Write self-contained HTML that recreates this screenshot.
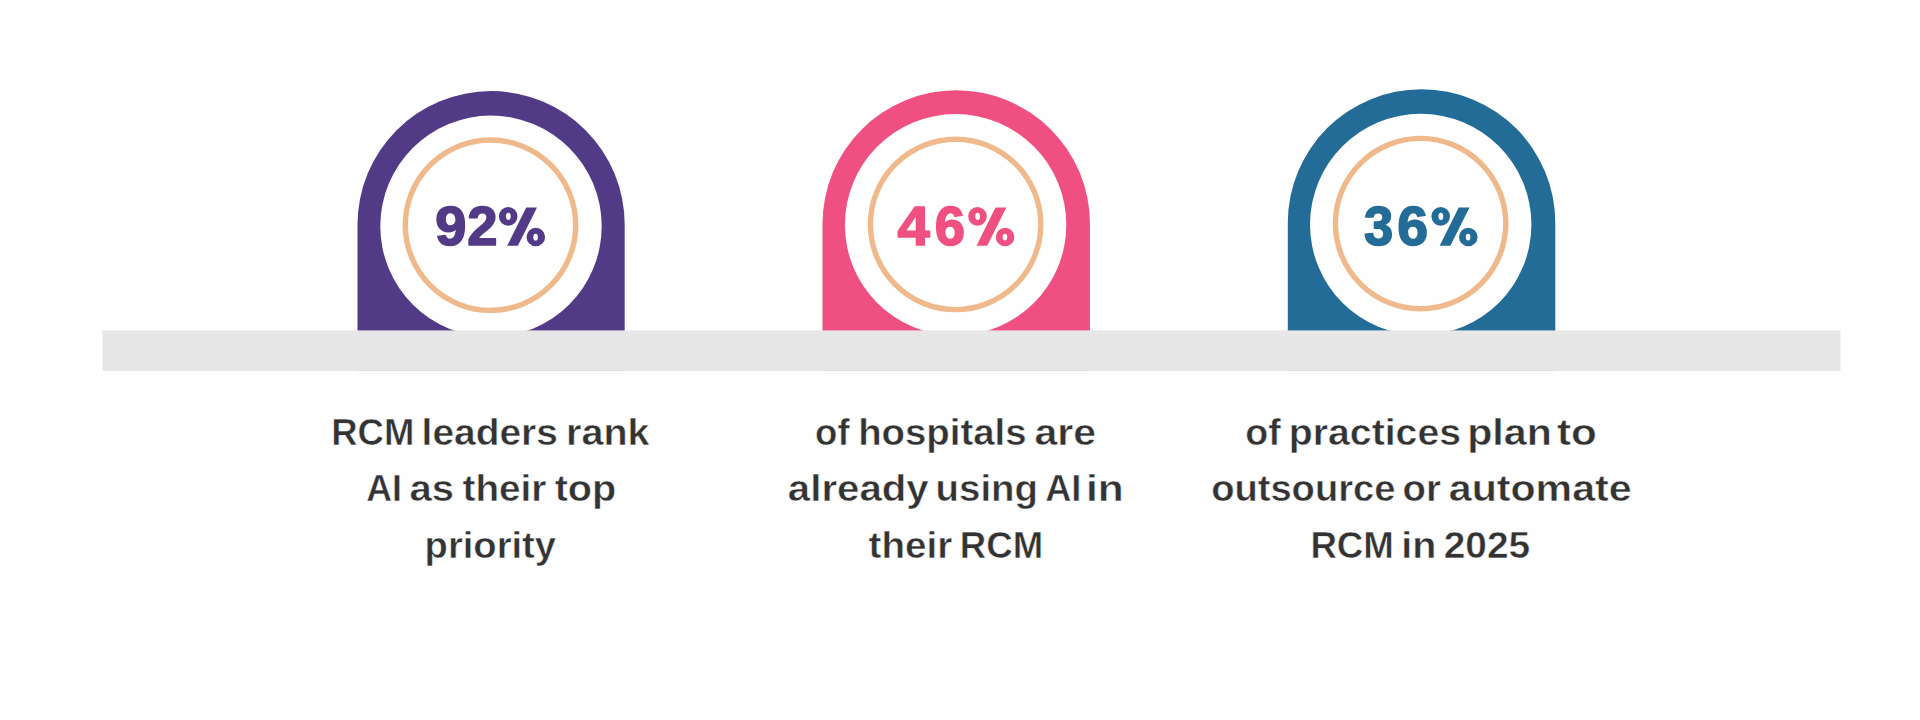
<!DOCTYPE html>
<html>
<head>
<meta charset="utf-8">
<style>
html,body{margin:0;padding:0;background:#fefefe;}
body{width:1920px;height:720px;overflow:hidden;position:relative;font-family:"Liberation Sans",sans-serif;}
svg{position:absolute;left:0;top:0;}
.pct{font-family:"Liberation Sans",sans-serif;font-weight:700;font-size:55.1px;stroke-width:1.6px;stroke-linejoin:round;}
.txt{font-family:"Liberation Sans",sans-serif;font-weight:700;font-size:36.8px;fill:#333333;stroke:#fefefe;stroke-width:0.5px;}
</style>
</head>
<body>
<svg width="1920" height="720" viewBox="0 0 1920 720">
  <path d="M357.50,331 V224.70 A133.60,133.60 0 0 1 624.70,224.70 V331 Z" fill="#533a87"/>
  <circle cx="491.00" cy="226.2" r="110.7" fill="#fefefe"/>
  <circle cx="490.50" cy="225.2" r="85.2" fill="none" stroke="#efb98c" stroke-width="5.4"/>
  <path d="M822.50,331 V224.05 A133.75,133.75 0 0 1 1090.00,224.05 V331 Z" fill="#ef5081"/>
  <circle cx="955.60" cy="224.8" r="110.7" fill="#fefefe"/>
  <circle cx="955.60" cy="224.4" r="85.2" fill="none" stroke="#efb98c" stroke-width="5.4"/>
  <path d="M1287.80,331 V222.95 A133.75,133.75 0 0 1 1555.30,222.95 V331 Z" fill="#236c97"/>
  <circle cx="1420.70" cy="224.5" r="110.7" fill="#fefefe"/>
  <circle cx="1420.60" cy="223.6" r="85.2" fill="none" stroke="#efb98c" stroke-width="5.4"/>
  <rect x="102.5" y="330.4" width="1738" height="40.6" fill="#e7e7e7"/>
  <rect x="357.5" y="369.7" width="267.2" height="1.2" fill="#dcdcdc"/>
  <rect x="822.5" y="369.7" width="267.5" height="1.2" fill="#dcdcdc"/>
  <rect x="1287.8" y="369.7" width="267.5" height="1.2" fill="#dcdcdc"/>
  <text class="pct" x="435.26" y="245" textLength="31.18" lengthAdjust="spacingAndGlyphs" fill="#533a87" stroke="#533a87">9</text>
  <text class="pct" x="467.28" y="245" textLength="30.28" lengthAdjust="spacingAndGlyphs" fill="#533a87" stroke="#533a87">2</text>
  <path fill-rule="evenodd" d="M498.90,216.30 a9.3,9.4 0 1 0 18.6,0 a9.3,9.4 0 1 0 -18.6,0 Z M505.95,216.30 a2.4,3.6 0 1 1 4.8,0 a2.4,3.6 0 1 1 -4.8,0 Z M526.50,237.00 a9.3,9.2 0 1 0 18.6,0 a9.3,9.2 0 1 0 -18.6,0 Z M533.30,237.10 a2.3,3.4 0 1 1 4.6,0 a2.3,3.4 0 1 1 -4.6,0 Z " fill="#533a87"/>
  <path d="M526.20,207.60 L537.00,207.60 L517.90,245.80 L507.20,245.80 Z" fill="#533a87"/>
  <text class="pct" x="897.43" y="245" textLength="32.32" lengthAdjust="spacingAndGlyphs" fill="#ef5081" stroke="#ef5081">4</text>
  <text class="pct" x="934.74" y="245" textLength="30.24" lengthAdjust="spacingAndGlyphs" fill="#ef5081" stroke="#ef5081">6</text>
  <path fill-rule="evenodd" d="M968.20,216.30 a9.3,9.4 0 1 0 18.6,0 a9.3,9.4 0 1 0 -18.6,0 Z M975.25,216.30 a2.4,3.6 0 1 1 4.8,0 a2.4,3.6 0 1 1 -4.8,0 Z M995.80,237.00 a9.3,9.2 0 1 0 18.6,0 a9.3,9.2 0 1 0 -18.6,0 Z M1002.60,237.10 a2.3,3.4 0 1 1 4.6,0 a2.3,3.4 0 1 1 -4.6,0 Z " fill="#ef5081"/>
  <path d="M995.50,207.60 L1006.30,207.60 L987.20,245.80 L976.50,245.80 Z" fill="#ef5081"/>
  <text class="pct" x="1363.99" y="245" textLength="29.23" lengthAdjust="spacingAndGlyphs" fill="#236c97" stroke="#236c97">3</text>
  <text class="pct" x="1397.31" y="245" textLength="30.77" lengthAdjust="spacingAndGlyphs" fill="#236c97" stroke="#236c97">6</text>
  <path fill-rule="evenodd" d="M1431.40,216.30 a9.3,9.4 0 1 0 18.6,0 a9.3,9.4 0 1 0 -18.6,0 Z M1438.45,216.30 a2.4,3.6 0 1 1 4.8,0 a2.4,3.6 0 1 1 -4.8,0 Z M1459.00,237.00 a9.3,9.2 0 1 0 18.6,0 a9.3,9.2 0 1 0 -18.6,0 Z M1465.80,237.10 a2.3,3.4 0 1 1 4.6,0 a2.3,3.4 0 1 1 -4.6,0 Z " fill="#236c97"/>
  <path d="M1458.70,207.60 L1469.50,207.60 L1450.40,245.80 L1439.70,245.80 Z" fill="#236c97"/>
  <text class="txt" x="331.21" y="444.8" textLength="83.11" lengthAdjust="spacingAndGlyphs">RCM</text>
  <text class="txt" x="421.61" y="444.8" textLength="136.28" lengthAdjust="spacingAndGlyphs">leaders</text>
  <text class="txt" x="566.13" y="444.8" textLength="83.46" lengthAdjust="spacingAndGlyphs">rank</text>
  <text class="txt" x="366.20" y="501.3" textLength="35.80" lengthAdjust="spacingAndGlyphs">AI</text>
  <text class="txt" x="409.52" y="501.3" textLength="44.50" lengthAdjust="spacingAndGlyphs">as</text>
  <text class="txt" x="462.57" y="501.3" textLength="83.77" lengthAdjust="spacingAndGlyphs">their</text>
  <text class="txt" x="554.65" y="501.3" textLength="61.65" lengthAdjust="spacingAndGlyphs">top</text>
  <text class="txt" x="424.62" y="558.0" textLength="131.41" lengthAdjust="spacingAndGlyphs">priority</text>
  <text class="txt" x="815.12" y="444.8" textLength="34.46" lengthAdjust="spacingAndGlyphs">of</text>
  <text class="txt" x="858.16" y="444.8" textLength="168.43" lengthAdjust="spacingAndGlyphs">hospitals</text>
  <text class="txt" x="1034.40" y="444.8" textLength="61.62" lengthAdjust="spacingAndGlyphs">are</text>
  <text class="txt" x="787.86" y="501.3" textLength="140.87" lengthAdjust="spacingAndGlyphs">already</text>
  <text class="txt" x="935.64" y="501.3" textLength="102.35" lengthAdjust="spacingAndGlyphs">using</text>
  <text class="txt" x="1045.15" y="501.3" textLength="36.27" lengthAdjust="spacingAndGlyphs">AI</text>
  <text class="txt" x="1085.97" y="501.3" textLength="37.71" lengthAdjust="spacingAndGlyphs">in</text>
  <text class="txt" x="868.57" y="558.0" textLength="83.65" lengthAdjust="spacingAndGlyphs">their</text>
  <text class="txt" x="959.84" y="558.0" textLength="83.32" lengthAdjust="spacingAndGlyphs">RCM</text>
  <text class="txt" x="1245.35" y="444.8" textLength="35.40" lengthAdjust="spacingAndGlyphs">of</text>
  <text class="txt" x="1288.80" y="444.8" textLength="172.26" lengthAdjust="spacingAndGlyphs">practices</text>
  <text class="txt" x="1467.16" y="444.8" textLength="84.68" lengthAdjust="spacingAndGlyphs">plan</text>
  <text class="txt" x="1557.05" y="444.8" textLength="39.80" lengthAdjust="spacingAndGlyphs">to</text>
  <text class="txt" x="1211.16" y="501.3" textLength="184.28" lengthAdjust="spacingAndGlyphs">outsource</text>
  <text class="txt" x="1402.57" y="501.3" textLength="38.33" lengthAdjust="spacingAndGlyphs">or</text>
  <text class="txt" x="1448.76" y="501.3" textLength="182.87" lengthAdjust="spacingAndGlyphs">automate</text>
  <text class="txt" x="1310.39" y="558.0" textLength="83.58" lengthAdjust="spacingAndGlyphs">RCM</text>
  <text class="txt" x="1401.21" y="558.0" textLength="35.08" lengthAdjust="spacingAndGlyphs">in</text>
  <text class="txt" x="1443.73" y="558.0" textLength="86.54" lengthAdjust="spacingAndGlyphs">2025</text>
</svg>
</body>
</html>
